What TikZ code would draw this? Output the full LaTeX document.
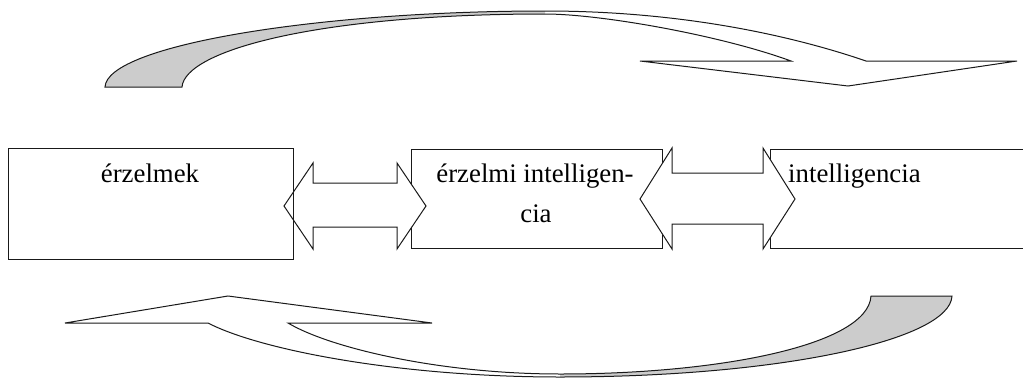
\documentclass[tikz,border=0pt]{standalone}
\usepackage{fontspec}
\setmainfont{Liberation Serif}
\begin{document}
\begin{tikzpicture}[x=1pt,y=-1pt,
  outline/.style={draw=black!90,line width=1pt,line join=miter},
  box/.style={outline,rectangle,inner sep=0pt,outer sep=0pt},
  blockarrow/.style={outline,fill=white},
  ribbon/.style={outline,fill=none},
  backside/.style={fill=black!20},
  lbl/.style={inner sep=0pt,font=\fontsize{26.8}{30}\selectfont}]
\useasboundingbox (0,0) rectangle (1023,378);

% concept boxes (the right one runs past the page edge)
\node[box,fill=white,minimum width=251pt,minimum height=99pt] (b2) at (536.5,198.5) {};
\node[box,fill=white,minimum width=270pt,minimum height=99pt] (b3) at (905,198.5) {};

% two-headed block arrows between the boxes
\draw[blockarrow] (284,206) -- (313,163) -- (313,183) -- (397,183) -- (397,163)
  -- (426,206) -- (397,249) -- (397,227) -- (313,227) -- (313,249) -- cycle;
\draw[blockarrow] (640,199) -- (672,148) -- (672,173) -- (763,173) -- (763,148)
  -- (795,199) -- (763,249) -- (763,224) -- (672,224) -- (672,249) -- cycle;

\node[box,minimum width=285pt,minimum height=111pt] (b1) at (150.5,203.5) {};

% labels
\node[lbl,anchor=base] (t1) at (150,182) {érzelmek};
\node[lbl,anchor=base] (t2a) at (535,182) {érzelmi intelligen-};
\node[lbl,anchor=base] (t2b) at (536,222) {cia};
\node[lbl,anchor=base west] (t3) at (788,182) {intelligencia};

% upper curved arrow: shaded back side of the ribbon, then its outline
\fill[backside] (105,87) .. controls (107,45) and (320,11) .. (545,11)
  -- (545,14) .. controls (320,14) and (185,50) .. (182,87) -- cycle;
\draw[ribbon] (105,87) .. controls (107,45) and (320,11) .. (545,11)
  .. controls (680,11) and (790,35) .. (866,61) -- (1017,61) -- (848,86)
  -- (640,61) -- (791,61) .. controls (720,35) and (600,14) .. (545,14)
  .. controls (320,14) and (185,50) .. (182,87) -- cycle;

% lower curved arrow
\fill[backside] (560,377) .. controls (780,377) and (950,340) .. (952,296)
  -- (871,296) .. controls (868,345) and (720,374) .. (560,374) -- cycle;
\draw[ribbon] (208,323) .. controls (260,350) and (400,377) .. (560,377)
  .. controls (780,377) and (950,340) .. (952,296) -- (871,296)
  .. controls (868,345) and (720,374) .. (560,374)
  .. controls (440,374) and (330,348) .. (288,323) -- (432,323) -- (228,296)
  -- (65,323) -- cycle;
\end{tikzpicture}
\end{document}
